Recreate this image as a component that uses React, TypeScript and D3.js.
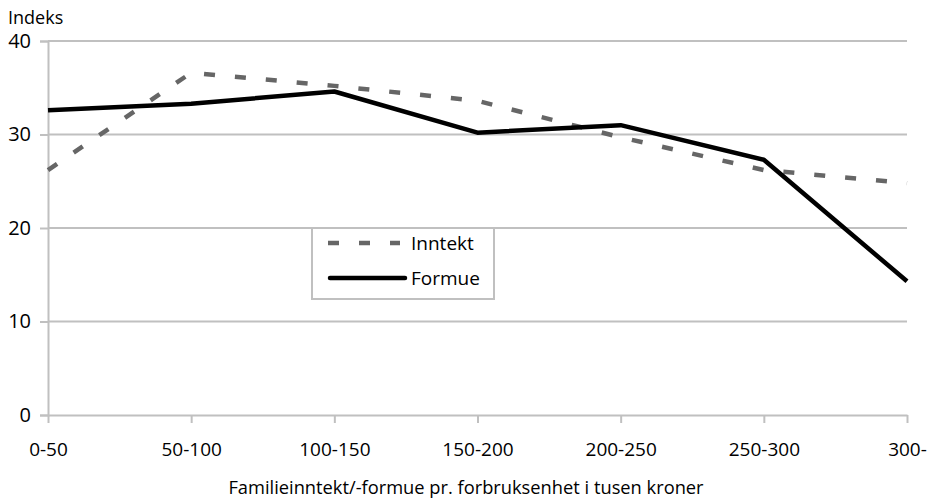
import React, { useRef, useEffect } from 'react';
import * as d3 from 'd3';

const categories = ['0-50', '50-100', '100-150', '150-200', '200-250', '250-300', '300-'];
const inntekt = [26.2, 36.6, 35.2, 33.6, 29.7, 26.2, 24.8];
const formue = [32.6, 33.3, 34.6, 30.2, 31.0, 27.3, 14.3];
const yTicks = [0, 10, 20, 30, 40];

const FONT = '"Open Sans", "Noto Sans", sans-serif';
const GRID = '#c0c0c0';

const LineChart = () => {
  const svgRef = useRef<SVGSVGElement>(null);

  useEffect(() => {
    const svg = d3.select(svgRef.current);
    svg.selectAll('*').remove();

    const width = 932;
    const height = 502;
    const left = 48, right = 907, top = 41, bottom = 415;

    svg.attr('width', width).attr('height', height);

    const x = d3.scalePoint<string>().domain(categories).range([left, right]);
    const y = d3.scaleLinear().domain([0, 40]).range([bottom, top]);

    // gridlines
    svg.append('g')
      .selectAll('line')
      .data(yTicks.filter(d => d > 0))
      .enter().append('line')
      .attr('x1', left).attr('x2', right)
      .attr('y1', d => y(d)).attr('y2', d => y(d))
      .attr('stroke', GRID).attr('stroke-width', 2);

    // y axis
    const yAxis = svg.append('g')
      .attr('transform', `translate(${left},0)`)
      .call(d3.axisLeft(y).tickValues(yTicks).tickSize(8).tickPadding(9));
    yAxis.select('.domain').attr('stroke', GRID).attr('stroke-width', 2);
    yAxis.selectAll('.tick line').attr('stroke', GRID).attr('stroke-width', 2);
    yAxis.selectAll('.tick text')
      .attr('font-family', FONT).attr('font-size', 20).attr('fill', '#000');

    // x axis
    const xAxis = svg.append('g')
      .attr('transform', `translate(0,${bottom})`)
      .call(d3.axisBottom(x).tickSize(8).tickPadding(20).tickSizeOuter(0));
    xAxis.select('.domain').attr('stroke', GRID).attr('stroke-width', 2);
    xAxis.selectAll('.tick line').attr('stroke', GRID).attr('stroke-width', 2);
    xAxis.selectAll('.tick text')
      .attr('font-family', FONT).attr('font-size', 19).attr('fill', '#000');

    svg.append('text')
      .attr('x', 8).attr('y', 24)
      .attr('font-family', FONT).attr('font-size', 18)
      .text('Indeks');

    svg.append('text')
      .attr('x', 466).attr('y', 494)
      .attr('text-anchor', 'middle')
      .attr('font-family', FONT).attr('font-size', 18.3)
      .text('Familieinntekt/-formue pr. forbruksenhet i tusen kroner');

    const line = d3.line<number>()
      .x((_, i) => x(categories[i]) as number)
      .y(d => y(d));

    svg.append('path')
      .datum(inntekt)
      .attr('d', line)
      .attr('fill', 'none')
      .attr('stroke', '#666666')
      .attr('stroke-width', 4.5)
      .attr('stroke-dasharray', '11 20');

    svg.append('path')
      .datum(formue)
      .attr('d', line)
      .attr('fill', 'none')
      .attr('stroke', '#000')
      .attr('stroke-width', 4.5)
      .attr('stroke-linejoin', 'round');

    // legend
    const lg = svg.append('g');
    lg.append('rect')
      .attr('x', 312).attr('y', 228).attr('width', 182).attr('height', 71)
      .attr('fill', '#fff').attr('stroke', GRID).attr('stroke-width', 2);
    lg.append('line')
      .attr('x1', 328).attr('x2', 400).attr('y1', 243).attr('y2', 243)
      .attr('stroke', '#666666').attr('stroke-width', 4.5)
      .attr('stroke-dasharray', '11 20');
    lg.append('line')
      .attr('x1', 330).attr('x2', 405).attr('y1', 278).attr('y2', 278)
      .attr('stroke', '#000').attr('stroke-width', 4.5)
      .attr('stroke-linecap', 'round');
    lg.append('text')
      .attr('x', 411).attr('y', 250)
      .attr('font-family', FONT).attr('font-size', 19)
      .text('Inntekt');
    lg.append('text')
      .attr('x', 411).attr('y', 285)
      .attr('font-family', FONT).attr('font-size', 19)
      .text('Formue');
  }, []);

  return <svg ref={svgRef} style={{ display: 'block' }}></svg>;
};

export default function App() {
  return (
    <div style={{ position: 'absolute', left: 0, top: 0, background: '#fff' }}>
      <LineChart />
    </div>
  );
}
